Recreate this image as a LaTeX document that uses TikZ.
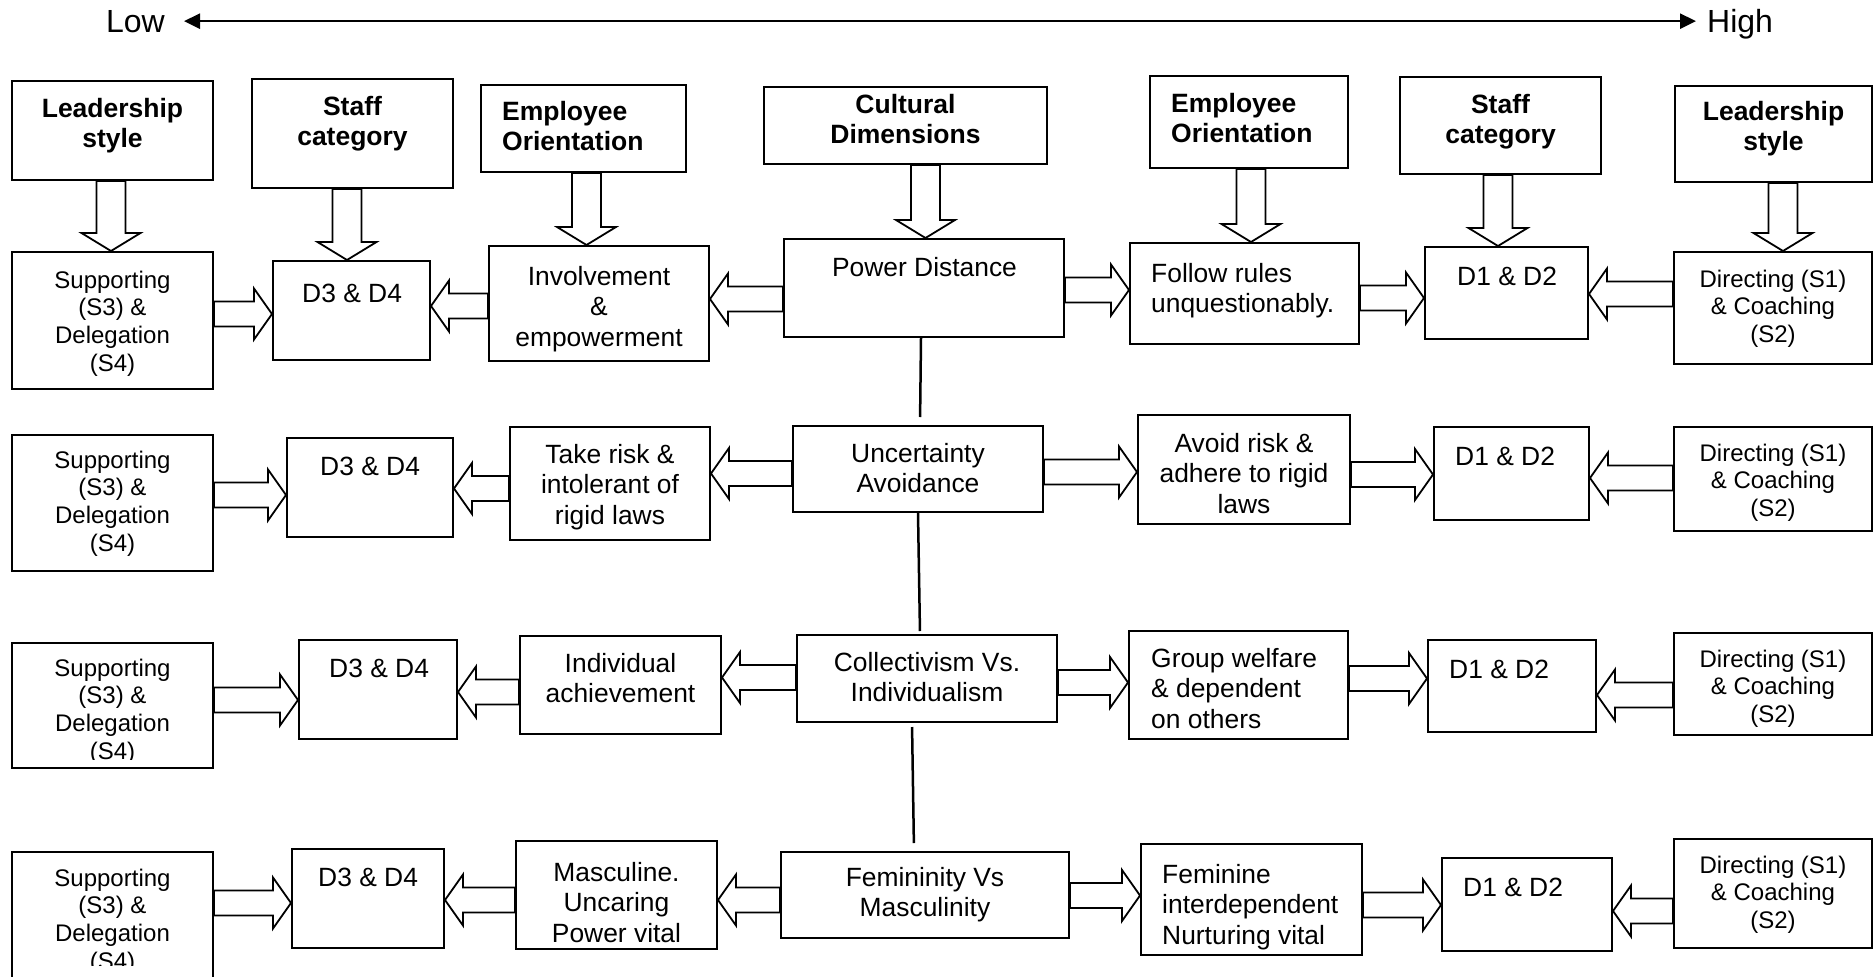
\documentclass[tikz,border=0pt]{standalone}
\usepackage{fontspec}
\setmainfont{Liberation Sans}
\usetikzlibrary{calc,arrows.meta}

% font sizes (1pt = 1px of the final picture)
\newcommand{\txtA}{\fontsize{26.4}{30.4}\selectfont}
\newcommand{\txtS}{\fontsize{24}{27.6}\selectfont}
\newcommand{\txtB}{\fontsize{26.5}{30}\selectfont\bfseries}
\newcommand{\txtL}{\fontsize{32}{36}\selectfont}
% invisible strut fixing the height of a first line
\newcommand{\lnst}{\rule{0pt}{0.8em}}

\tikzset{
  box/.style={draw, line width=2pt, inner sep=0pt, rectangle},
  blk/.style={draw, fill=white, line width=1.8pt, line join=miter},
  vline/.style={line width=2.5pt},
  tc/.style={inner sep=0pt, anchor=north, align=center},
  tl/.style={inner sep=0pt, anchor=north west, align=left},
  tb/.style={inner sep=0pt, anchor=base west},
}

% box: name, x1, y1, x2, y2
\newcommand{\bx}[5]{\node[box, minimum width={(#4-#2)*1pt}, minimum height={(#5-#3)*1pt}] (#1) at ({(#2+#4)/2},{(#3+#5)/2}) {};}

% hollow block arrows
\newcommand{\blockdown}[3]{% upper node, lower node, x of shaft
  \coordinate (ax) at (#3,0);
  \draw[blk] ($(ax |- #1.south)+(-14.5,0)$) -- ($(ax |- #2.north)+(-14.5,-18)$)
    -- ($(ax |- #2.north)+(-29.5,-18)$) -- (ax |- #2.north)
    -- ($(ax |- #2.north)+(29.5,-18)$) -- ($(ax |- #2.north)+(14.5,-18)$)
    -- ($(ax |- #1.south)+(14.5,0)$) -- cycle;}
\newcommand{\blockright}[3]{% source, target, y of shaft
  \coordinate (ay) at (0,#3);
  \draw[blk] ($(#1.east |- ay)+(0,-12.5)$) -- ($(#2.west |- ay)+(-18,-12.5)$)
    -- ($(#2.west |- ay)+(-18,-25.5)$) -- (#2.west |- ay)
    -- ($(#2.west |- ay)+(-18,25.5)$) -- ($(#2.west |- ay)+(-18,12.5)$)
    -- ($(#1.east |- ay)+(0,12.5)$) -- cycle;}
\newcommand{\blockleft}[3]{% source, target, y of shaft
  \coordinate (ay) at (0,#3);
  \draw[blk] ($(#1.west |- ay)+(0,-12.5)$) -- ($(#2.east |- ay)+(18,-12.5)$)
    -- ($(#2.east |- ay)+(18,-25.5)$) -- (#2.east |- ay)
    -- ($(#2.east |- ay)+(18,25.5)$) -- ($(#2.east |- ay)+(18,12.5)$)
    -- ($(#1.west |- ay)+(0,12.5)$) -- cycle;}

\begin{document}
\begin{tikzpicture}[x=1pt,y=-1pt]
\useasboundingbox (0,0) rectangle (1874,977);
\fill[white] (0,0) rectangle (1874,977);
\clip (0,0) rectangle (1874,977);

% ---- scale Low -> High
\node[font=\txtL, inner sep=0pt, anchor=base east] (low) at (165,32) {Low};
\node[font=\txtL, inner sep=0pt, anchor=base west] (high) at (1707,32) {High};
\draw[line width=2.5pt, {Triangle[length=16pt,width=15pt]}-{Triangle[length=16pt,width=15pt]}]
  ([xshift=19pt]low.east) -- ([xshift=-11pt]high.west |- low.east);

% ---- header boxes
\bx{hL1}{12}{81}{213}{180}
\bx{hS1}{252}{79}{453}{188}
\bx{hE1}{481}{85}{686}{172}
\bx{hC}{764}{87}{1047}{164}
\bx{hE2}{1150}{76}{1348}{168}
\bx{hS2}{1400}{77}{1601}{174}
\bx{hL2}{1675}{86}{1872}{182}
\node[tc, font=\txtB] (hL1t) at (112.5,117-21.2) {\lnst Leadership\\style};
\node[tc, font=\txtB] (hS1t) at (352.5,115-21.2) {\lnst Staff\\category};
\node[tl, font=\txtB] (hE1t) at (502,120-21.2) {\lnst Employee\\Orientation};
\node[tc, font=\txtB] (hCt) at (905.5,113-21.2) {\lnst Cultural\\Dimensions};
\node[tl, font=\txtB] (hE2t) at (1171,112-21.2) {\lnst Employee\\Orientation};
\node[tc, font=\txtB] (hS2t) at (1500.5,113-21.2) {\lnst Staff\\category};
\node[tc, font=\txtB] (hL2t) at (1773.5,120-21.2) {\lnst Leadership\\style};

% ---- row 1: power distance
\bx{s1}{12}{252}{213}{389}
\bx{d31}{273}{261}{430}{360}
\bx{inv}{489}{246}{709}{361}
\bx{pd}{784}{239}{1064}{337}
\bx{fol}{1130}{243}{1359}{344}
\bx{d11}{1425}{247}{1588}{339}
\bx{dir1}{1674}{252}{1872}{364}
\node[tc, font=\txtS] (s1t) at (112.5,288-19.2) {\lnst Supporting\\(S3) \&\\Delegation\\(S4)};
\node[tb, font=\txtA] (d31t) at (302,302) {D3 \& D4};
\node[tc, font=\txtA] (invt) at (599,285-21.12) {\lnst Involvement\\\&\\empowerment};
\node[inner sep=0pt, anchor=base, font=\txtA] (pdt) at (924.5,276) {Power Distance};
\node[tl, font=\txtA] (folt) at (1151,282-21.12) {\lnst Follow rules\\unquestionably.};
\node[tb, font=\txtA] (d11t) at (1457,285) {D1 \& D2};
\node[tc, font=\txtS] (dir1t) at (1773,287-19.2) {\lnst Directing (S1)\\\& Coaching\\(S2)};

% ---- row 2: uncertainty avoidance
\bx{s2}{12}{435}{213}{571}
\bx{d32}{287}{438}{453}{537}
\bx{tak}{510}{427}{710}{540}
\bx{ua}{793}{426}{1043}{512}
\bx{avo}{1138}{415}{1350}{524}
\bx{d12}{1434}{427}{1589}{520}
\bx{dir2}{1674}{427}{1872}{531}
\node[tc, font=\txtS] (s2t) at (112.5,468-19.2) {\lnst Supporting\\(S3) \&\\Delegation\\(S4)};
\node[tb, font=\txtA] (d32t) at (320,475) {D3 \& D4};
\node[tc, font=\txtA] (takt) at (610,463-21.12) {\lnst Take risk \&\\intolerant of\\rigid laws};
\node[tc, font=\txtA] (uat) at (918,462-21.12) {\lnst Uncertainty\\Avoidance};
\node[tc, font=\txtA] (avot) at (1244,452-21.12) {\lnst Avoid risk \&\\adhere to rigid\\laws};
\node[tb, font=\txtA] (d12t) at (1455,465) {D1 \& D2};
\node[tc, font=\txtS] (dir2t) at (1773,461-19.2) {\lnst Directing (S1)\\\& Coaching\\(S2)};

% ---- row 3: collectivism vs individualism
\bx{s3}{12}{643}{213}{768}
\bx{d33}{299}{640}{457}{739}
\bx{ind}{520}{636}{721}{734}
\bx{ci}{797}{635}{1057}{722}
\bx{grp}{1129}{631}{1348}{739}
\bx{d13}{1428}{640}{1596}{732}
\bx{dir3}{1674}{633}{1872}{735}
\begin{scope}
  \clip (12,643) rectangle (213,759);
  \node[tc, font=\txtS] (s3t) at (112.5,676-19.2) {\lnst Supporting\\(S3) \&\\Delegation\\(S4)};
\end{scope}
\node[tb, font=\txtA] (d33t) at (329,677) {D3 \& D4};
\node[tc, font=\txtA] (indt) at (620.5,672-21.12) {\lnst Individual\\achievement};
\node[tc, font=\txtA] (cit) at (927,671-21.12) {\lnst Collectivism Vs.\\Individualism};
\node[tl, font=\txtA] (grpt) at (1151,667-21.12) {\lnst Group welfare\\\& dependent\\on others};
\node[tb, font=\txtA] (d13t) at (1449,678) {D1 \& D2};
\node[tc, font=\txtS] (dir3t) at (1773,667-19.2) {\lnst Directing (S1)\\\& Coaching\\(S2)};

% ---- row 4: femininity vs masculinity
\bx{s4}{12}{852}{213}{1000}
\bx{d34}{292}{849}{444}{948}
\bx{mas}{516}{841}{717}{949}
\bx{fm}{781}{852}{1069}{938}
\bx{fem}{1141}{844}{1362}{955}
\bx{d14}{1442}{858}{1612}{951}
\bx{dir4}{1674}{839}{1872}{948}
\begin{scope}
  \clip (12,852) rectangle (213,965);
  \node[tc, font=\txtS] (s4t) at (112.5,886-19.2) {\lnst Supporting\\(S3) \&\\Delegation\\(S4)};
\end{scope}
\node[tb, font=\txtA] (d34t) at (318,886) {D3 \& D4};
\node[tc, font=\txtA] (mast) at (616.5,881-21.12) {\lnst Masculine.\\Uncaring\\Power vital};
\node[tc, font=\txtA] (fmt) at (925,886-21.12) {\lnst Femininity Vs\\Masculinity};
\node[tl, font=\txtA] (femt) at (1162,883-21.12) {\lnst Feminine\\interdependent\\Nurturing vital};
\node[tb, font=\txtA] (d14t) at (1463,896) {D1 \& D2};
\node[tc, font=\txtS] (dir4t) at (1773,873-19.2) {\lnst Directing (S1)\\\& Coaching\\(S2)};

% ---- headers feeding the first row
\blockdown{hL1}{s1}{111}
\blockdown{hS1}{d31}{347}
\blockdown{hE1}{inv}{586.5}
\blockdown{hC}{pd}{925.5}
\blockdown{hE2}{fol}{1251}
\blockdown{hS2}{d11}{1498}
\blockdown{hL2}{dir1}{1783}

% ---- spine joining the four dimensions
\draw[vline, shorten >=8pt] ([xshift=-3pt]pd.south) -- ([xshift=2pt]ua.north);
\draw[vline, shorten >=3pt] (ua.south) -- ([xshift=-7pt]ci.north);
\draw[vline, shorten <=4pt, shorten >=8pt] ([xshift=-15pt]ci.south) -- ([xshift=-11pt]fm.north);

% ---- row 1 arrows
\blockright{s1}{d31}{314}
\blockleft{inv}{d31}{306}
\blockleft{pd}{inv}{299}
\blockright{pd}{fol}{290}
\blockright{fol}{d11}{298}
\blockleft{dir1}{d11}{294}

% ---- row 2 arrows
\blockright{s2}{d32}{495}
\blockleft{tak}{d32}{488.5}
\blockleft{ua}{tak}{473.5}
\blockright{ua}{avo}{472}
\blockright{avo}{d12}{474.5}
\blockleft{dir2}{d12}{478}

% ---- row 3 arrows
\blockright{s3}{d33}{700}
\blockleft{ind}{d33}{692}
\blockleft{ci}{ind}{677.5}
\blockright{ci}{grp}{682.5}
\blockright{grp}{d13}{678.5}
\blockleft{dir3}{d13}{695}

% ---- row 4 arrows
\blockright{s4}{d34}{903}
\blockleft{mas}{d34}{900}
\blockleft{fm}{mas}{900}
\blockright{fm}{fem}{895.5}
\blockright{fem}{d14}{905}
\blockleft{dir4}{d14}{911}
\end{tikzpicture}
\end{document}
